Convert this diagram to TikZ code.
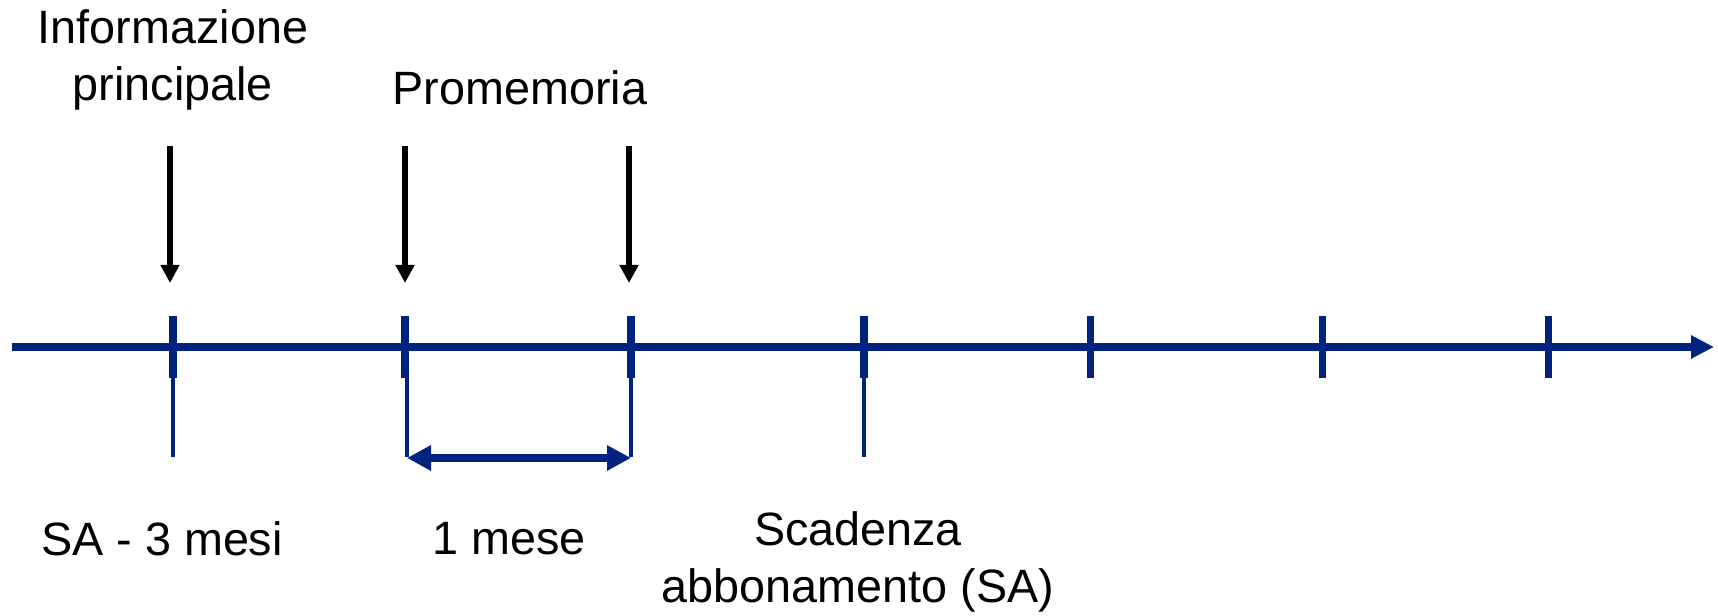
\documentclass[tikz,border=0pt]{standalone}
\usepackage{fontspec}
\setmainfont{Liberation Sans}
\usetikzlibrary{arrows.meta}
\definecolor{navy}{RGB}{0,35,128}
\tikzset{axisline/.style={navy, line width=2.3pt, -{Triangle[length=2.3mm,width=2.2mm]}},
         tickline/.style={navy, line width=2pt},
         guideline/.style={navy, line width=0.9pt},
         spanarrow/.style={navy, line width=2pt, {Triangle[length=2.4mm,width=2.4mm]}-{Triangle[length=2.4mm,width=2.4mm]}},
         pointer/.style={black, line width=1.7pt, -{Triangle[length=1.8mm,width=1.8mm]}},
         caption/.style={align=center, inner sep=0pt, font=\fontsize{13.3}{16.4}\selectfont},
        }
\begin{document}
\begin{tikzpicture}
        \useasboundingbox (0,0) rectangle (17.18,6.15);

        \coordinate (start) at (0.12,2.68);
        \coordinate (end) at (17.14,2.68);
        \draw[axisline](start)--(end);

        \foreach \i/\x in {1/1.73, 2/4.05, 3/6.31, 4/8.64, 5/10.90, 6/13.22, 7/15.48}{
            \coordinate (t\i) at (\x,2.68);
            \draw[tickline]([yshift=3.1mm]t\i)--([yshift=-3.1mm]t\i);
        }

        \foreach \i in {1,3,4}
            \draw[guideline]([yshift=-3.1mm]t\i)--([yshift=-11mm]t\i);
        \draw[guideline]([xshift=0.2mm,yshift=-3.1mm]t2)--([xshift=0.2mm,yshift=-11mm]t2);

        \coordinate (s1) at ([xshift=0.2mm,yshift=-11.1mm]t2);
        \coordinate (s2) at ([yshift=-11.1mm]t3);
        \draw[spanarrow](s1)--(s2);

        \foreach \i/\dx in {1/-0.3, 2/0, 3/-0.2}{
            \coordinate (p\i) at ([xshift=\dx mm,yshift=20.1mm]t\i);
            \coordinate (q\i) at ([xshift=\dx mm,yshift=6.4mm]t\i);
            \draw[pointer](p\i)--(q\i);
        }

        \node[caption](info)at(1.73,5.55){Informazione\\principale};
        \node[caption](promem)at(5.20,5.27){Promemoria};
        \node[caption](minus3)at(1.62,0.76){SA - 3 mesi};
        \node[caption](onemonth)at(5.09,0.76){1 mese};
        \node[caption](expiry)at(8.58,0.53){Scadenza\\abbonamento (SA)};
\end{tikzpicture}
\end{document}
